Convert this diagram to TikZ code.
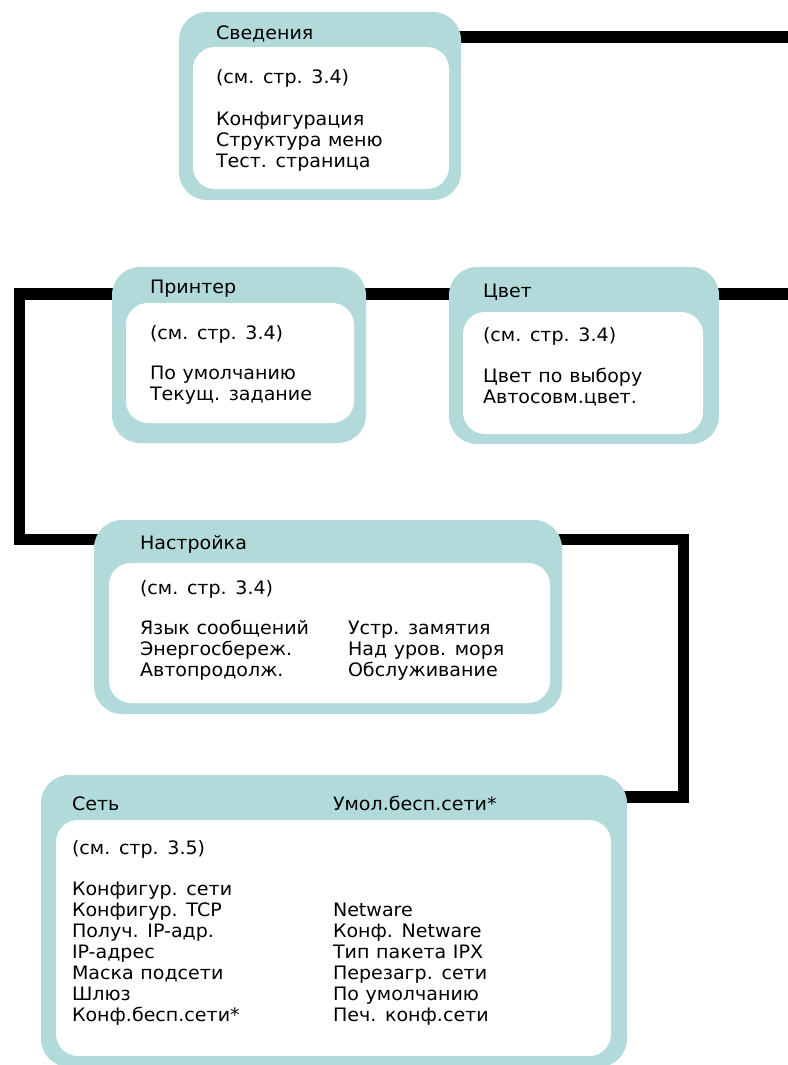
\documentclass[tikz,border=0pt]{standalone}
\usepackage{fontspec}
\setmainfont[FakeStretch=1.03,WordSpace=1.1]{DejaVu Sans}
\usetikzlibrary{fit,backgrounds,calc}
\definecolor{tealbox}{RGB}{179,218,218}
\tikzset{
  outerbox/.style={fill=tealbox, draw=none, rounded corners=28bp, inner sep=0pt, outer sep=0pt},
  innerbox/.style={fill=white, draw=none, rounded corners=22bp, inner sep=0pt, outer sep=0pt},
  txt/.style={inner sep=0pt, outer sep=0pt, anchor=base west, font=\fontsize{18.5bp}{21bp}\selectfont},
  conn/.style={line width=11.5bp, black, line join=miter, line cap=butt},
}
\newcommand\textlines[4]{%
  \foreach \t [count=\i] in {#4}
    \node[txt] (#1-\i) at (#2, {#3+21*(\i-1)}) {\t};%
}
\begin{document}
\begin{tikzpicture}[x=1bp,y=-1bp]
\useasboundingbox (0,0) rectangle (788,1065);
\clip (0,0) rectangle (788,1065);

% boxes
\node[outerbox, fit={(179,12) (461,200)}] (info) {};
\node[innerbox, fit={(193,47) (449,189)}] (infoin) {};
\node[outerbox, fit={(112,267) (366,443)}] (printer) {};
\node[innerbox, fit={(126,303) (354,423)}] (printerin) {};
\node[outerbox, fit={(449,267) (719,444)}] (color) {};
\node[innerbox, fit={(463,312) (703,434)}] (colorin) {};
\node[outerbox, fit={(94,520) (562,714)}] (setup) {};
\node[innerbox, fit={(109,563) (550,703)}] (setupin) {};
\node[outerbox, fit={(41,775) (627,1067)}] (net) {};
\node[innerbox, fit={(56,820) (611,1056)}] (netin) {};

% texts
\node[txt] (info-title) at (216,39) {Сведения};
\node[txt] (info-ref) at (216,83) {(см. стр. 3.4)};
\textlines{info}{216}{125}{Конфигурация,Структура меню,Тест. страница}

\node[txt] (printer-title) at (150,293) {Принтер};
\node[txt] (printer-ref) at (150,339) {(см. стр. 3.4)};
\textlines{printer}{150}{379}{По умолчанию,Текущ. задание}

\node[txt] (color-title) at (483,297) {Цвет};
\node[txt] (color-ref) at (483,341) {(см. стр. 3.4)};
\textlines{color}{483}{382}{Цвет по выбору,Автосовм.цвет.}

\node[txt] (setup-title) at (140,549) {Настройка};
\node[txt] (setup-ref) at (140,594) {(см. стр. 3.4)};
\textlines{setupa}{140}{634}{Язык сообщений,Энергосбереж.,Автопродолж.}
\textlines{setupb}{348}{634}{Устр. замятия,Над уров. моря,Обслуживание}

\node[txt] (net-title) at (72,810) {Сеть};
\node[txt] (net-title2) at (333,810) {Умол.бесп.сети*};
\node[txt] (net-ref) at (72,854) {(см. стр. 3.5)};
\textlines{neta}{72}{895}{Конфигур. сети,Конфигур. TCP,Получ. IP-адр.,IP-адрес,Маска подсети,Шлюз,Конф.бесп.сети*}
\textlines{netb}{333}{916}{Netware,Конф. Netware,Тип пакета IPX,Перезагр. сети,По умолчанию,Печ. конф.сети}

% connectors
\coordinate (aR) at (800,37);
\coordinate (bL) at (19.5,294);
\coordinate (bL2) at (19.5,539.5);
\coordinate (dR) at (800,294);
\coordinate (eR) at (683.5,539.5);
\coordinate (eR2) at (683.5,797);
\begin{scope}[on background layer]
\draw[conn] (info.center |- aR) -- (aR);
\draw[conn] (printer.center |- bL) -- (bL) -- (bL2) -- (setup.center |- bL2);
\draw[conn] (printer.center |- bL) -- (color.center |- bL);
\draw[conn] (color.center |- dR) -- (dR);
\draw[conn] (setup.center |- eR) -- (eR) -- (eR2) -- (net.center |- eR2);
\end{scope}
\end{tikzpicture}
\end{document}
